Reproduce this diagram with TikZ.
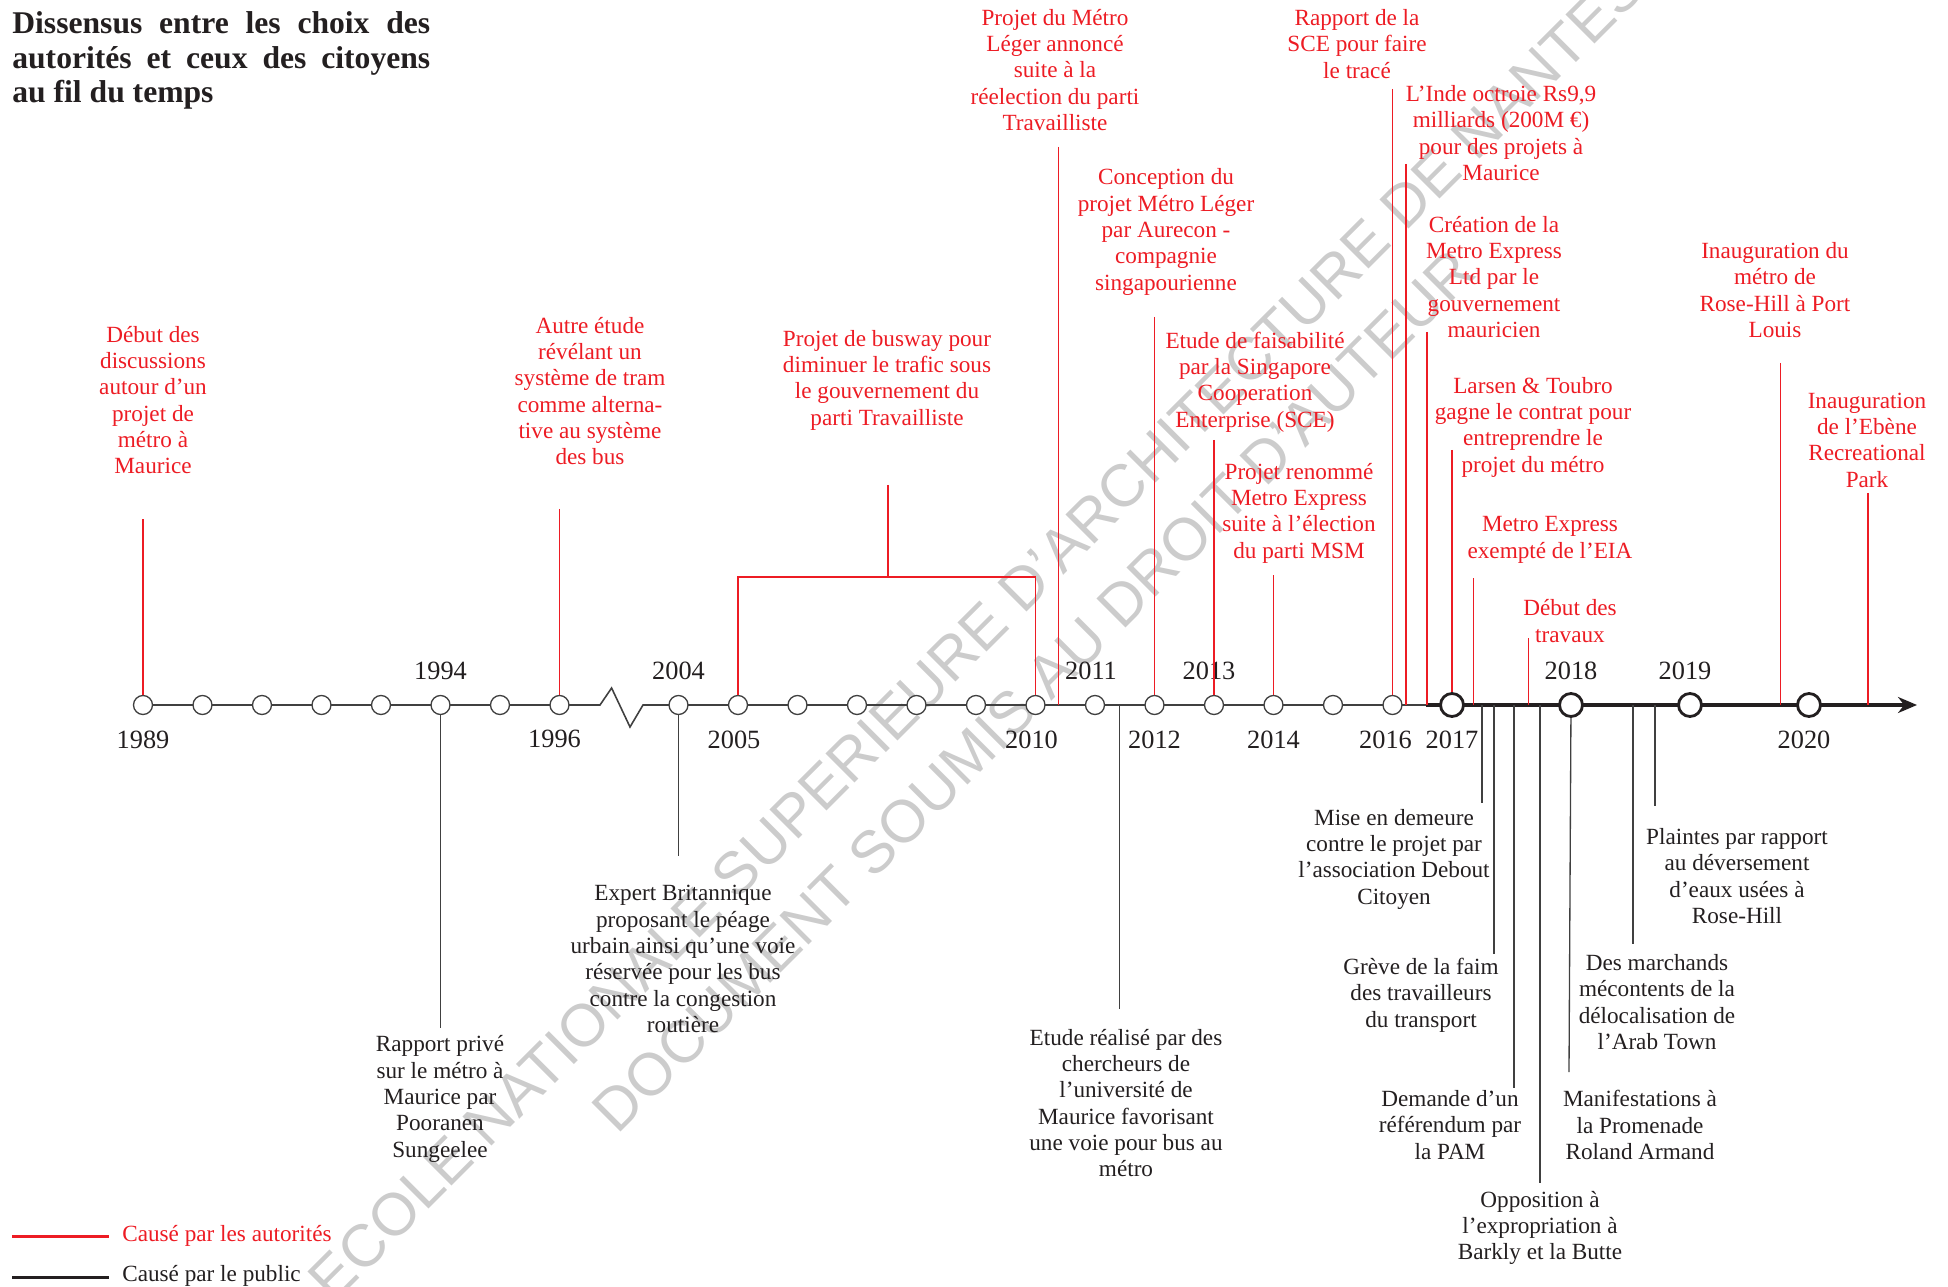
\documentclass[tikz,border=0pt]{standalone}
\usepackage{fontspec}
\setmainfont{Liberation Serif}
\newfontfamily\filigrane{Liberation Sans}
\usetikzlibrary{positioning,arrows.meta}

\definecolor{rouge}{RGB}{237,28,36}
\definecolor{noir}{RGB}{35,31,32}
\definecolor{gris}{RGB}{64,64,64}

\tikzset{
  aut/.style={draw=rouge, line width=0.75pt},
  pub/.style={draw=gris, line width=0.75pt},
  evt/.style={align=center, inner sep=0pt, font=\fontsize{13.2}{15}\selectfont},
  evta/.style={evt, text=rouge},
  evtp/.style={evt, text=noir},
  an/.style={inner sep=0pt, font=\fontsize{15}{18}\selectfont, text=noir},
  pt/.style={circle, draw=gris, fill=white, line width=0.75pt, inner sep=0pt, minimum size=3.8mm},
  grandpt/.style={circle, draw=noir, fill=white, line width=1.6pt, inner sep=0pt, minimum size=4.6mm}
}

\begin{document}
\begin{tikzpicture}[x=0.02cm, y=-0.02cm]
  \useasboundingbox (0,0) rectangle (1948,1287);
  % Filigrane en fond.
  \node[rotate=45, align=center, inner sep=0pt, text=black!20,
        font=\filigrane\fontsize{34}{46.4}\selectfont] (wm) at (1005,662)
        {ECOLE NATIONALE SUPERIEURE D’ARCHITECTURE DE NANTES\\DOCUMENT SOUMIS AU DROIT D’AUTEUR};
  % Titre.
  \node[anchor=north west, inner sep=0pt, text width=8.36cm, align=justify,
        font=\fontsize{18}{19.8}\selectfont\bfseries, text=noir] (titre) at (12,11)
        {Dissensus entre les choix des\linebreak autorités et ceux des citoyens\linebreak au fil du temps};

  % Axe du temps (avec la coupure entre 1996 et 2004).
  \draw[gris, line width=0.9pt] (143,705) -- (600,705) -- (611.6,688) -- (630,727) -- (643,705) -- (1426,705);
  \draw[noir, line width=2pt, -{Stealth[length=3.8mm, width=3.2mm]}] (1426,705) -- (1917,705);
  \foreach \i in {0,1,2,3,4,5,6,7,9,10,11,12,13,14,15,16,17,18,19,20,21}
    \node[pt] (c\i) at ({143+59.5*\i},705) {};
  \foreach \i in {22,24,26,28}
    \node[grandpt] (c\i) at ({143+59.5*\i},705) {};

  % Annees.
  \node[an, below=3mm of c0] (a1989) {1989};
  \node[an, above=3mm of c5] (a1994) {1994};
  \node[an, below=3mm of c7, xshift=-1mm] (a1996) {1996};
  \node[an, above=3mm of c9] (a2004) {2004};
  \node[an, below=3mm of c10, xshift=-0.8mm] (a2005) {2005};
  \node[an, below=3mm of c15, xshift=-0.8mm] (a2010) {2010};
  \node[an, above=3mm of c16, xshift=-0.8mm] (a2011) {2011};
  \node[an, below=3mm of c17] (a2012) {2012};
  \node[an, above=3mm of c18, xshift=-1mm] (a2013) {2013};
  \node[an, below=3mm of c19] (a2014) {2014};
  \node[an, below=3mm of c21, xshift=-1.4mm] (a2016) {2016};
  \node[an, below=2.6mm of c22] (a2017) {2017};
  \node[an, above=2.3mm of c24] (a2018) {2018};
  \node[an, above=2.3mm of c26, xshift=-1mm] (a2019) {2019};
  \node[an, below=2.6mm of c28, xshift=-1mm] (a2020) {2020};

  % Evenements causes par les autorites.
  \node[evta] (e1) at (153,400) {Début des\\discussions\\autour d’un\\projet de\\métro à\\Maurice};
  \coordinate (h1) at (143,519);
  \draw[aut] (h1) -- (c0);
  \node[evta] (e2) at (590,391) {Autre étude\\révélant un\\système de tram\\comme alterna-\\tive au système\\des bus};
  \coordinate (h2) at (559.5,509);
  \draw[aut] (h2) -- (c7);
  \node[evta] (e3) at (887,380) {Projet de busway pour\\diminuer le trafic sous\\le gouvernement du\\parti Travailliste};
  \coordinate (h3) at (888,485);
  \coordinate (b3) at (888,577);
  \draw[aut] (h3) -- (b3);
  \draw[aut] (c10) |- (b3) -| (c15);
  \node[evta] (e4) at (1055,70) {Projet du Métro\\Léger annoncé\\suite à la\\réelection du parti\\Travailliste};
  \coordinate (h4) at (1058.5,147);
  \coordinate (x4) at (1058.5,705);
  \draw[aut] (h4) -- (x4);
  \node[evta] (e5) at (1166,232) {Conception du\\projet Métro Léger\\par Aurecon -\\compagnie\\singapourienne};
  \coordinate (h5) at (1154.5,317);
  \draw[aut] (h5) -- (c17);
  \node[evta] (e6) at (1255,382) {Etude de faisabilité\\par la Singapore\\Cooperation\\Enterprise (SCE)};
  \coordinate (h6) at (1214,440);
  \draw[aut] (h6) -- (c18);
  \node[evta] (e7) at (1299,513) {Projet renommé\\Metro Express\\suite à l’élection\\du parti MSM};
  \coordinate (h7) at (1273.5,575);
  \draw[aut] (h7) -- (c19);
  \node[evta] (e8) at (1357,44) {Rapport de la\\SCE pour faire\\le tracé};
  \coordinate (h8) at (1392.5,89);
  \draw[aut] (h8) -- (c21);
  \node[evta] (e9) at (1501,133) {L’Inde octroie Rs9,9\\milliards (200M €)\\pour des projets à\\Maurice};
  \coordinate (h9) at (1406,164);
  \coordinate (x9) at (1406,705);
  \draw[aut] (h9) -- (x9);
  \node[evta] (e10) at (1494,277) {Création de la\\Metro Express\\Ltd par le\\gouvernement\\mauricien};
  \coordinate (h10) at (1427,332);
  \coordinate (x10) at (1427,705);
  \draw[aut] (h10) -- (x10);
  \node[evta] (e11) at (1533,427) {Larsen \& Toubro\\gagne le contrat pour\\entreprendre le\\projet du métro};
  \coordinate (h11) at (1452,450);
  \draw[aut] (h11) -- (c22);
  \node[evta] (e12) at (1550,540) {Metro Express\\exempté de l’EIA};
  \coordinate (h12) at (1473.6,578);
  \coordinate (x12) at (1473.6,705);
  \draw[aut] (h12) -- (x12);
  \node[evta] (e13) at (1570,621) {Début des\\travaux};
  \coordinate (h13) at (1528.6,638);
  \coordinate (x13) at (1528.6,705);
  \draw[aut] (h13) -- (x13);
  \node[evta] (e14) at (1775,290) {Inauguration du\\métro de\\Rose-Hill à Port\\Louis};
  \coordinate (h14) at (1780.6,363);
  \coordinate (x14) at (1780.6,705);
  \draw[aut] (h14) -- (x14);
  \node[evta] (e15) at (1867,440) {Inauguration\\de l’Ebène\\Recreational\\Park};
  \coordinate (h15) at (1868,493);
  \coordinate (x15) at (1868,705);
  \draw[aut] (h15) -- (x15);

  % Evenements causes par le public.
  \node[evtp] (p1) at (440,1099) {Rapport privé\\sur le métro à\\Maurice par\\Pooranen\\Sungeelee};
  \coordinate (b1) at (440.5,1028);
  \draw[pub] (c5) -- (b1);
  \node[evtp] (p2) at (683,959) {Expert Britannique\\proposant le péage\\urbain ainsi qu’une voie\\réservée pour les bus\\contre la congestion\\routière};
  \coordinate (b2) at (678.5,856);
  \draw[pub] (c9) -- (b2);
  \node[evtp] (p3) at (1126,1103) {Etude réalisé par des\\chercheurs de\\l’université de\\Maurice favorisant\\une voie pour bus au\\métro};
  \coordinate (y3) at (1119.5,705);
  \coordinate (b3) at (1119.5,1009);
  \draw[pub] (y3) -- (b3);
  \node[evtp] (p4) at (1394,859) {Mise en demeure\\contre le projet par\\l’association Debout\\Citoyen};
  \coordinate (y4) at (1482,705);
  \coordinate (b4) at (1482,803);
  \draw[pub] (y4) -- (b4);
  \node[evtp] (p5) at (1421,995) {Grève de la faim\\des travailleurs\\du transport};
  \coordinate (y5) at (1494,705);
  \coordinate (b5) at (1494,954);
  \draw[pub] (y5) -- (b5);
  \node[evtp] (p6) at (1450,1125) {Demande d’un\\référendum par\\la PAM};
  \coordinate (y6) at (1514,705);
  \coordinate (b6) at (1514,1088);
  \draw[pub] (y6) -- (b6);
  \node[evtp] (p7) at (1540,1228) {Opposition à\\l’expropriation à\\Barkly et la Butte};
  \coordinate (y7) at (1540,705);
  \coordinate (b7) at (1540,1183);
  \draw[pub] (y7) -- (b7);
  \node[evtp] (p8) at (1640,1125) {Manifestations à\\la Promenade\\Roland Armand};
  \coordinate (b8) at (1569,1072);
  \draw[pub] (c24) -- (b8);
  \node[evtp] (p9) at (1657,1002) {Des marchands\\mécontents de la\\délocalisation de\\l’Arab Town};
  \coordinate (y9) at (1633,705);
  \coordinate (b9) at (1633,944);
  \draw[pub] (y9) -- (b9);
  \node[evtp] (p10) at (1737,876) {Plaintes par rapport\\au déversement\\d’eaux usées à\\Rose-Hill};
  \coordinate (y10) at (1655,705);
  \coordinate (b10) at (1655,806);
  \draw[pub] (y10) -- (b10);

  % Legende.
  \node[evta, anchor=west] (leg1) at (122,1236) {Causé par les autorités};
  \draw[rouge, line width=1.7pt] (12,1236) -- (109,1236);
  \node[evtp, anchor=west] (leg2) at (122,1276) {Causé par le public};
  \draw[noir, line width=1.7pt] (12,1277) -- (109,1277);
\end{tikzpicture}
\end{document}
